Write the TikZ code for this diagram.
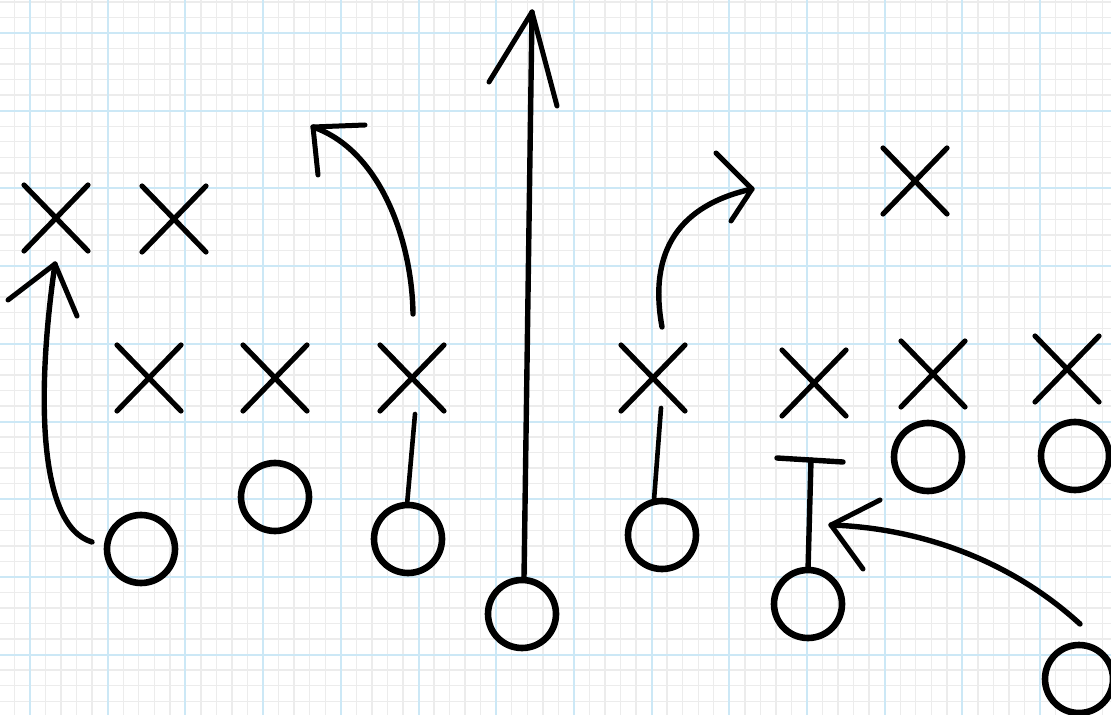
\documentclass[tikz,border=0pt]{standalone}
\usetikzlibrary{shapes.misc,calc}
\definecolor{minorgrid}{RGB}{236,236,236}
\definecolor{majorgrid}{RGB}{204,232,246}
\begin{document}
\begin{tikzpicture}[x=0.5pt,y=-0.5pt,
  player/.style={draw=black,circle,minimum size=34pt,inner sep=0pt,outer sep=0pt,line width=3.3pt},
  defender/.style={draw=black,cross out,minimum width=32pt,minimum height=33pt,inner sep=0pt,outer sep=0pt,line width=2.6pt,line cap=round},
  route/.style={draw=black,line width=2.7pt,line cap=round,line join=round},
  thinroute/.style={draw=black,line width=2.3pt,line cap=round},
  barb/.style={draw=black,line width=2.5pt,line cap=round,line join=round}]
\fill[white] (0,0) rectangle (1111,715);
\useasboundingbox (0,0) rectangle (1111,715);
\begin{scope}
\clip (0,0) rectangle (1111,715);
\foreach \i in {-2,...,70} \draw[minorgrid,line width=0.7pt] ({30+15.54*\i},0) -- ({30+15.54*\i},715);
\foreach \j in {-2,...,44} \draw[minorgrid,line width=0.7pt] (0,{33+15.54*\j}) -- (1111,{33+15.54*\j});
\foreach \i in {0,...,13} \draw[majorgrid,line width=1pt] ({30+77.7*\i},0) -- ({30+77.7*\i},715);
\foreach \j in {0,...,8} \draw[majorgrid,line width=1pt] (0,{33+77.7*\j}) -- (1111,{33+77.7*\j});

% defenders
\node[defender] (x1) at (56,218) {};
\node[defender] (x2) at (174,219) {};
\node[defender] (x3) at (149,378) {};
\node[defender] (x4) at (275,378) {};
\node[defender] (x5) at (412,378) {};
\node[defender] (x6) at (653,378) {};
\node[defender] (x7) at (814,383) {};
\node[defender] (x8) at (933,374) {};
\node[defender] (x9) at (1067,369) {};
\node[defender] (x10) at (915,181) {};

% offense
\node[player] (o1) at (141,549) {};
\node[player] (o2) at (275,497) {};
\node[player] (o3) at (408,539) {};
\node[player] (o4) at (522,614) {};
\node[player] (o5) at (662,535) {};
\node[player] (o6) at (808,604) {};
\node[player] (o7) at (928,457) {};
\node[player] (o8) at (1075,456) {};
\node[player] (o9) at (1079,679) {};

% route tips
\coordinate (tA) at (55,264);
\coordinate (tB) at (313,127);
\coordinate (tC) at (532,12);
\coordinate (tD) at (752,189);
\coordinate (tE) at (831,525);
\coordinate (blk) at (811,460);

% route A
\draw[route] ($(o1.west)+(-15,-7)$) .. controls (35,525) and (38,380) .. (tA);
\draw[barb] ($(tA)+(-47,36)$) -- (tA) -- ($(tA)+(22,52)$);
% route B
\draw[route] ($(x5.north)+(1,-31)$) .. controls (412,240) and (380,150) .. (tB);
\draw[barb] ($(tB)+(52,-2)$) -- (tB) -- ($(tB)+(5,48)$);
% route C
\draw[route] ($(o4.north)+(2,-3)$) -- (tC);
\draw[barb] ($(tC)+(-43,70)$) -- (tC) -- ($(tC)+(25,94)$);
% route D
\draw[route] ($(x6.north)+(9,-18)$) .. controls (648,250) and (680,205) .. (tD);
\draw[barb] ($(tD)+(-36,-36)$) -- (tD) -- ($(tD)+(-21,32)$);
% route E
\draw[route] ($(o9.north)+(1,-21)$) .. controls (1010,560) and (920,528) .. (tE);
\draw[barb] ($(tE)+(49,-25)$) -- (tE) -- ($(tE)+(32,44)$);
% short links
\draw[thinroute] ($(o3.north)+(-1,0)$) -- ($(x5.south)+(3,3)$);
\draw[thinroute] ($(o5.north)+(-8,-1)$) -- ($(x6.south)+(8,-3)$);
% block
\draw[route] (o6.north) -- (blk);
\draw[route] (777,458) -- (843,462);
\end{scope}
\end{tikzpicture}
\end{document}
